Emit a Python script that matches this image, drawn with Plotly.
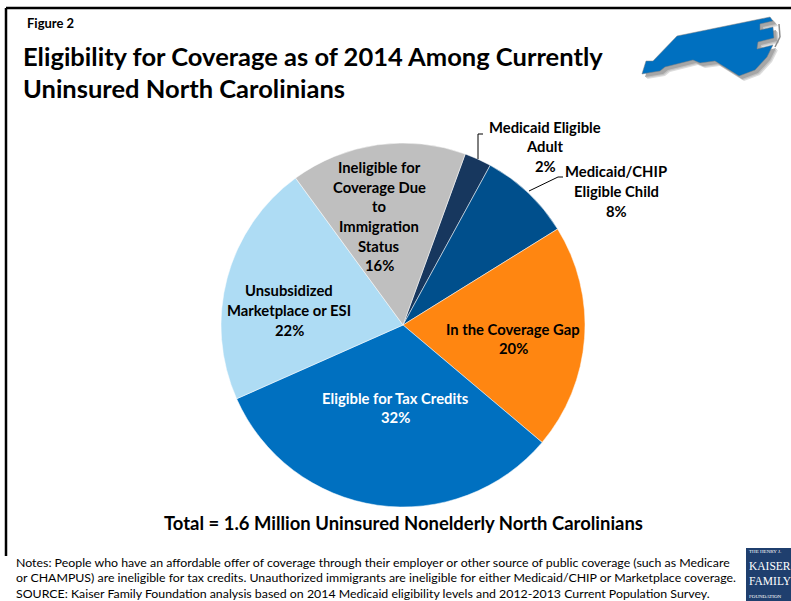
import plotly.graph_objects as go

labels = ["Medicaid Eligible Adult", "Medicaid/CHIP Eligible Child", "In the Coverage Gap",
          "Eligible for Tax Credits", "Unsubsidized Marketplace or ESI",
          "Ineligible for Coverage Due to Immigration Status"]
values = [2.4, 8.2, 20.0, 32.2, 21.6, 15.6]
colors = ["#17375E", "#004F8C", "#FF8611", "#0070C0", "#AEDCF4", "#BFBFBF"]
FONT = "Lato"
W, H = 791, 601
def X(p): return p / W
def Y(p): return 1 - p / H

fig = go.Figure(go.Pie(
    labels=labels, values=values, sort=False, direction="clockwise", rotation=20.0,
    marker=dict(colors=colors, line=dict(color="#FFFFFF", width=0.5)),
    textinfo="none", hoverinfo="label+percent", showlegend=False,
    domain=dict(x=[X(221), X(585)], y=[Y(507), Y(143)]),
))

ann = []
def text(x, y, t, size=14.8, color="#000000", bold=True, anchor="center"):
    ann.append(dict(x=X(x), y=Y(y), xref="paper", yref="paper", text=f"<b>{t}</b>" if bold else t,
                    showarrow=False, xanchor=anchor, yanchor="middle", align=anchor,
                    font=dict(family=FONT, size=size, color=color)))

text(25, 23, "Figure 2", 13, anchor="left")
text(21, 56, "Eligibility for Coverage as of 2014 Among Currently", 25.5, anchor="left")
text(21, 88, "Uninsured North Carolinians", 25.5, anchor="left")
for i, line in enumerate(["Medicaid Eligible", "Adult", "2%"]):
    text(545, 126.5 + i * 19.5, line)
for i, line in enumerate(["Medicaid/CHIP", "Eligible Child", "8%"]):
    text(616, 171.5 + i * 19.5, line)
for i, line in enumerate(["In the Coverage Gap", "20%"]):
    text(513, 328.5 + i * 19, line)
for i, line in enumerate(["Eligible for Tax Credits", "32%"]):
    text(395, 397.5 + i * 19.5, line, color="#FFFFFF")
for i, line in enumerate(["Unsubsidized", "Marketplace or ESI", "22%"]):
    text(289, 289.5 + i * 20, line)
for i, line in enumerate(["Ineligible for", "Coverage Due", "to", "Immigration", "Status", "16%"]):
    text(379, 167.5 + i * 19.5, line)
text(403, 523, "Total = 1.6 Million Uninsured Nonelderly North Carolinians", 18.45)
for i, line in enumerate([
    "Notes: People who have an affordable offer of coverage through their employer or other source of public coverage (such as Medicare",
    "or CHAMPUS) are ineligible for tax credits. Unauthorized immigrants are ineligible for either Medicaid/CHIP or Marketplace coverage.",
    "SOURCE: Kaiser Family Foundation analysis based on 2014 Medicaid eligibility levels and 2012-2013 Current Population Survey."]):
    text(14, 562 + i * 15.5, line, 12.35, bold=False, anchor="left")

# logo
for y, t, s in [(551, "THE HENRY J.", 5), (566, "KAISER", 11.5), (581, "FAMILY", 11.5), (596, "FOUNDATION", 5)]:
    text(747, y, t, s, color="#FFFFFF", bold=False, anchor="left")
    ann[-1]["font"]["family"] = "Liberation Serif"

def px_path(pts):
    return "M " + " L ".join(f"{X(a):.4f},{Y(b):.4f}" for a, b in pts) + " Z"
def line(pts, width=1, color="#000000"):
    for (a, b), (c, d) in zip(pts, pts[1:]):
        shapes.append(dict(type="line", xref="paper", yref="paper", x0=X(a), y0=Y(b), x1=X(c), y1=Y(d),
                           line=dict(color=color, width=width)))
shapes = []
line([(6, 8), (791, 8)], 2.5)
line([(6, 8), (6, 556)], 2.5)
line([(483, 134), (478, 134), (478, 159)], 1)
line([(563, 177), (558, 177), (529, 191)], 1)
shapes.append(dict(type="rect", xref="paper", yref="paper", x0=X(746), x1=X(791), y0=Y(548), y1=Y(601),
                   fillcolor="#1F3F6E", line=dict(width=0), layer="below"))
nc = [(642,74),(646,61),(653,61),(677,36),(770,17),(773,21),(760,24),(760,30),(773,27),(774,38),(758,42),(757,49),(773,45),(767,57),(755,70),(739,76),(715,61),(700,63),(693,60),(665,67),(660,71)]
for off, col in [(5, "#DDDDDD"), (4, "#C4C4C4"), (3, "#A6A6A6")]:
    shapes.append(dict(type="path", xref="paper", yref="paper", path=px_path([(a + off, b + off) for a, b in nc]),
                       fillcolor=col, line=dict(width=0)))
line([(779, 24), (780, 37), (775, 47)], 1.5, "#8C8C8C")
shapes.append(dict(type="path", xref="paper", yref="paper", path=px_path(nc), fillcolor="#0070C0", line=dict(color="#808080", width=0.5)))

fig.update_layout(width=W, height=H, margin=dict(l=0, r=0, t=0, b=0), paper_bgcolor="#FFFFFF",
                  annotations=ann, shapes=shapes)
fig.write_html("out.html", config=dict(displayModeBar=False), post_script="document.body.style.margin='0';document.documentElement.style.overflow='hidden';")
